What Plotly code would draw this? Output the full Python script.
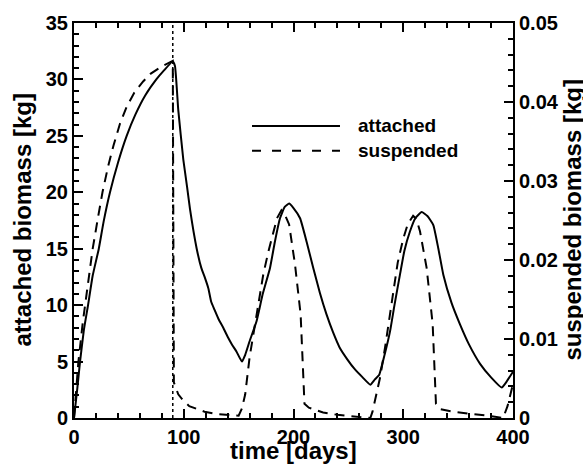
import plotly.graph_objects as go

# Attached biomass (left axis, kg) versus time (days)
attached_days = [0, 3, 5.5, 9, 12.8, 17, 22.6, 27, 32.8, 40, 48, 56, 65, 75, 82, 90,
                 92, 95, 99.6, 103, 105.7, 111.8, 116, 119.4, 122.4, 125, 128, 132, 136,
                 140, 144, 148, 153, 156, 160, 166.4, 172, 178.6, 183, 187.7, 192, 196,
                 200, 206, 212, 218, 224, 230, 236, 242, 249, 256, 263, 270, 274, 278,
                 283, 288, 292, 297, 301, 306, 311, 316.8, 322, 327.4, 332, 336.5, 344,
                 351.7, 360, 370, 380, 389.7, 394, 400]
attached_kg = [0, 2.6, 5, 7.8, 10, 12.6, 15, 17.4, 20, 22.6, 25, 26.9, 28.6, 30.0, 30.8, 31.6,
               31.2, 27.3, 22.9, 20.5, 18.5, 15.0, 13.3, 12.4, 11.5, 10.3, 9.6, 8.7, 8.0,
               7.2, 6.5, 5.9, 5.0, 5.6, 6.8, 8.6, 11.0, 13.3, 15.6, 17.7, 18.7, 19.0,
               18.6, 17.7, 15.6, 13.3, 11.1, 9.2, 7.6, 6.25, 5.2, 4.3, 3.6, 2.95, 3.4, 3.8,
               5.6, 7.7, 10.0, 12.7, 14.8, 16.5, 17.7, 18.25, 17.9, 17.1, 15.0, 12.7, 10.2,
               8.3, 6.5, 4.8, 3.6, 2.7, 3.2, 4.1]

# Suspended biomass (right axis, kg) versus time (days)
suspended_days = [0, 4, 8, 12, 17, 22, 26, 31, 36, 42, 48, 55, 63, 70, 80, 90,
                  91, 95, 98.5, 105, 112, 119, 130, 139, 150, 153, 156, 160, 164, 168,
                  172.5, 177, 181.6, 185, 189, 192, 196, 201.4, 206.5, 210, 214, 220, 227,
                  240, 258, 270, 272, 275.8, 279, 283.4, 287, 291, 295, 300, 304, 309, 312,
                  315.3, 321.3, 326.8, 329.8, 334, 345, 355, 363.8, 382, 391, 395, 400]
suspended_kg = [0, 0.0071, 0.0121, 0.0164, 0.0214, 0.0255, 0.0286, 0.0318, 0.0345, 0.0373,
                0.0394, 0.0412, 0.0426, 0.0436, 0.0445, 0.0452,
                0.0045, 0.003, 0.0024, 0.0015, 0.0011, 0.0008, 0.0005, 0.0004, 0.0003,
                0.0012, 0.003, 0.0077, 0.011, 0.014, 0.0182, 0.021, 0.0236, 0.0253, 0.0263,
                0.0258, 0.0245, 0.0194, 0.0131, 0.0018, 0.0013, 0.001, 0.0007, 0.0004,
                0.0002, 0.0, 0.0008, 0.0031, 0.0052, 0.0089, 0.0125, 0.016, 0.0197, 0.0227,
                0.0245, 0.0256, 0.0252, 0.0236, 0.019, 0.0119, 0.0018, 0.0011, 0.0008,
                0.0006, 0.0005, 0.0002, 0.0, 0.0015, 0.0043]

# Day at which the regime changes (vertical marker)
transition_day = [90]

legend_labels = ["attached", "suspended"]
x_title = "time [days]"
y_title = "attached biomass [kg]"
y2_title = "suspended biomass [kg]"

FONT = "Liberation Sans, Arial, Helvetica, sans-serif"
tickfont = dict(family=FONT, size=20, color="black", weight="bold")
titlefont = dict(family=FONT, size=24, color="black", weight="bold")
CURVE_DASH = "10px,7px"

fig = go.Figure()
fig.add_trace(go.Scatter(x=attached_days, y=attached_kg, mode="lines",
                         line=dict(color="black", width=2, shape="spline", smoothing=0.4),
                         name=legend_labels[0], yaxis="y"))
fig.add_trace(go.Scatter(x=suspended_days, y=suspended_kg, mode="lines",
                         line=dict(color="black", width=2, dash=CURVE_DASH),
                         name=legend_labels[1], yaxis="y2"))

for d in transition_day:
    fig.add_shape(type="line", xref="x", yref="paper", x0=d, x1=d, y0=0, y1=1,
                  line=dict(color="black", width=1.5, dash="dot"))

# Hand-drawn legend: long line samples followed by labels
legend_x0, legend_x1, legend_text_x = 0.4055, 0.6059, 0.6424
legend_rows = [0.7393, 0.6767]
legend_dash = ["solid", "9px,11px"]
for label, yy, dash in zip(legend_labels, legend_rows, legend_dash):
    fig.add_shape(type="line", xref="paper", yref="paper", x0=legend_x0, x1=legend_x1,
                  y0=yy, y1=yy, line=dict(color="black", width=2, dash=dash))
    fig.add_annotation(xref="paper", yref="paper", x=legend_text_x, y=yy, text=label,
                       showarrow=False, xanchor="left", yanchor="middle",
                       font=dict(family=FONT, size=19, color="black", weight="bold"))

# Axis titles
fig.add_annotation(xref="paper", yref="paper", x=0.5, y=0, yshift=-32, text=x_title,
                   showarrow=False, xanchor="center", yanchor="middle", font=titlefont)
fig.add_annotation(xref="paper", yref="paper", x=0, y=0.5, xshift=-52, text=y_title,
                   showarrow=False, xanchor="center", yanchor="middle", textangle=-90,
                   font=titlefont)
fig.add_annotation(xref="paper", yref="paper", x=1, y=0.5, xshift=59, text=y2_title,
                   showarrow=False, xanchor="center", yanchor="middle", textangle=-90,
                   font=titlefont)

axis_common = dict(showgrid=False, zeroline=False, showline=True, linewidth=2,
                   linecolor="black", ticks="inside", ticklen=9, tickwidth=2,
                   tickcolor="black", tickfont=tickfont)

fig.update_layout(
    width=583, height=468,
    margin=dict(l=74, r=70, t=19, b=50),
    paper_bgcolor="white", plot_bgcolor="white",
    showlegend=False,
    xaxis=dict(range=[0, 400], tick0=0, dtick=100, mirror="ticks",
               minor=dict(dtick=20, ticks="inside", ticklen=5, tickwidth=1.5,
                          tickcolor="black"),
               **axis_common),
    yaxis=dict(range=[0, 35], tick0=0, dtick=5,
               minor=dict(dtick=1, ticks="inside", ticklen=5, tickwidth=1.5,
                          tickcolor="black"),
               **axis_common),
    yaxis2=dict(range=[0, 0.05], tick0=0, dtick=0.01, overlaying="y", side="right",
                minor=dict(dtick=0.002, ticks="inside", ticklen=5, tickwidth=1.5,
                           tickcolor="black"),
                **axis_common),
)

fig.write_html("out.html")
